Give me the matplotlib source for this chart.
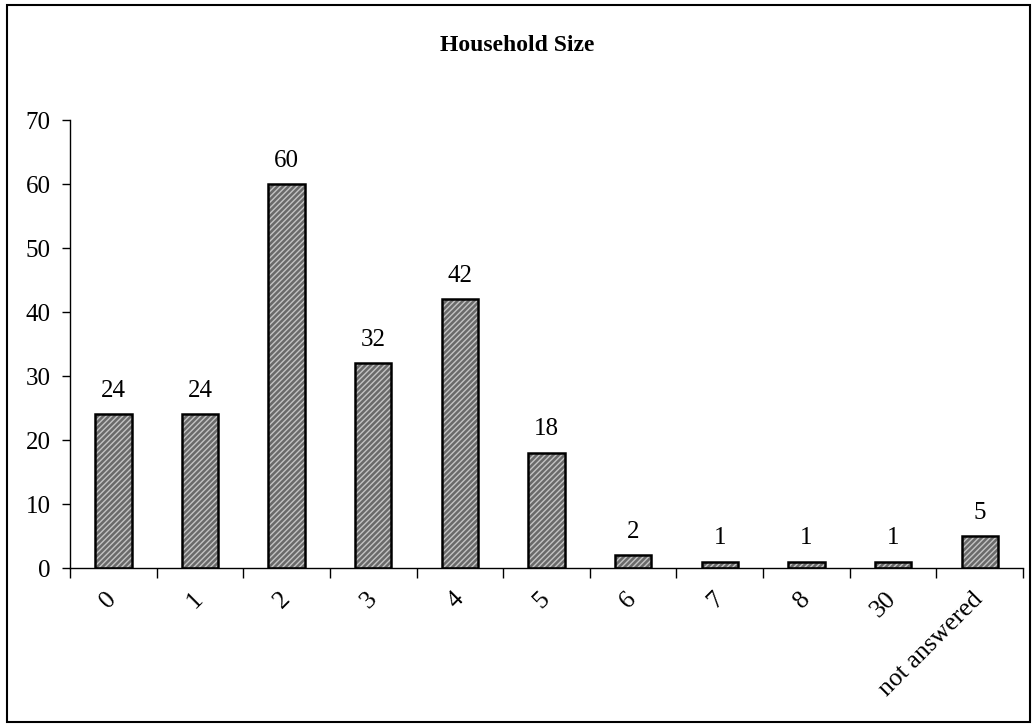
import matplotlib.pyplot as plt
import numpy as np
from matplotlib.patches import Rectangle

plt.rcParams['font.family'] = ['Liberation Serif', 'DejaVu Serif']

# data
categories = ['0', '1', '2', '3', '4', '5', '6', '7', '8', '30', 'not answered']
counts = [24, 24, 60, 32, 42, 18, 2, 1, 1, 1, 5]

fig = plt.figure(figsize=(10.34, 7.26), dpi=100)
ax = fig.add_axes([0.0677, 0.2176, 0.9217, 0.6171])

x = np.arange(len(categories))
# hatched grey fill, then a black outline on top
ax.bar(x, counts, width=0.42, color='#6a6a6a', edgecolor='#c4c4c4',
       hatch='//////', linewidth=0, zorder=2)
ax.bar(x, counts, width=0.42, fill=False, edgecolor='black', linewidth=1.8, zorder=3)

for xi, v in zip(x, counts):
    ax.annotate(str(v), (xi, v), xytext=(0, 9), textcoords='offset points',
                ha='center', va='bottom', fontsize=18)

ax.set_xlim(-0.5, len(categories) - 0.5)
ax.set_ylim(0, 70)
ax.set_yticks(range(0, 71, 10))
ax.tick_params(axis='y', labelsize=18, length=6, width=1, direction='out', pad=8)

# ticks between categories, labels at centres
ax.set_xticks(np.arange(-0.5, len(categories)), minor=False)
ax.set_xticklabels([])
ax.set_xticks(x, minor=True)
ax.set_xticklabels(categories, minor=True, rotation=45, ha='right', va='center',
                   rotation_mode='anchor', fontsize=18.5)
ax.tick_params(axis='x', which='major', length=7, width=1, direction='out')
ax.tick_params(axis='x', which='minor', length=0, pad=20)

for s in ['top', 'right']:
    ax.spines[s].set_visible(False)
ax.spines['left'].set_linewidth(1)
ax.spines['bottom'].set_linewidth(1)

fig.text(0.5, 0.938, 'Household Size', ha='center', va='center',
         fontsize=17, fontweight='bold')

# outer chart border
fig.patches.append(Rectangle((0.007, 0.006), 0.989, 0.987, transform=fig.transFigure,
                             fill=False, edgecolor='black', linewidth=1.5))

fig.savefig('out.png', dpi=100)
